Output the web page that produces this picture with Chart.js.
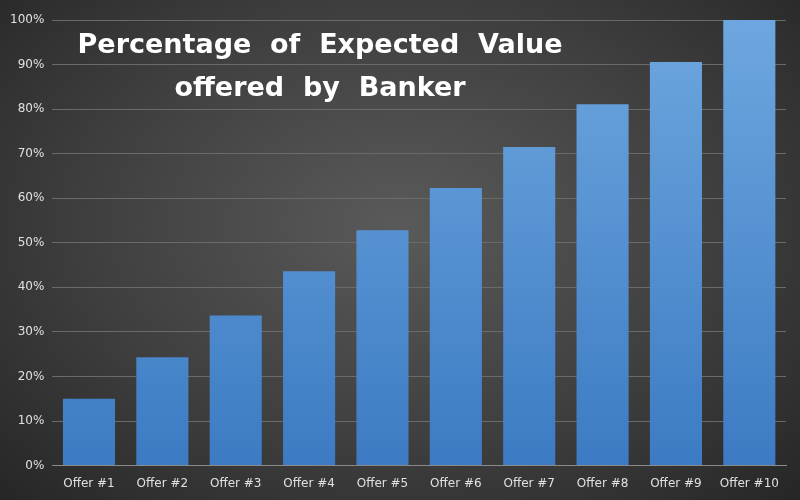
<!DOCTYPE html>
<html><head><meta charset="utf-8">
<script src="https://cdn.jsdelivr.net/npm/chart.js@4"></script>
<style>
html,body{margin:0;padding:0;}
body{width:800px;height:500px;background:radial-gradient(ellipse at 50% 45%, #5a5a5a 0%, #3f3f3f 55%, #262626 100%);}
#wrap{width:800px;height:500px;position:relative;}
</style></head><body>
<div id="wrap"><canvas id="c" width="800" height="500"></canvas></div>
<script>
const categories = ["Offer #1","Offer #2","Offer #3","Offer #4","Offer #5","Offer #6","Offer #7","Offer #8","Offer #9","Offer #10"];
const values = [15, 24.3, 33.7, 43.6, 52.8, 62.3, 71.5, 81.1, 90.6, 100];
const titleLines = ["Percentage  of  Expected  Value", "offered  by  Banker"];

const titlePlugin = {
  id:'tp',
  afterDraw(chart){
    const ctx = chart.ctx;
    ctx.save();
    ctx.fillStyle = '#ffffff';
    ctx.font = 'bold 27px "DejaVu Sans", Verdana, sans-serif';
    ctx.textAlign = 'center';
    ctx.textBaseline = 'middle';
    ctx.fillText(titleLines[0], 320, 46);
    ctx.fillText(titleLines[1], 320, 89);
    ctx.restore();
  }
};

new Chart(document.getElementById('c'), {
  type:'bar',
  data:{labels:categories, datasets:[{
    data:values,
    backgroundColor(ctx){
      const a = ctx.chart.chartArea;
      if(!a) return '#5b9bd5';
      const g = ctx.chart.ctx.createLinearGradient(0,a.top,0,a.bottom);
      g.addColorStop(0,'#6ea7df');
      g.addColorStop(1,'#3c7bc3');
      return g;
    },
    categoryPercentage:0.71, barPercentage:1.0
  }]},
  options:{
    responsive:false, animation:false,
    layout:{padding:{left:2,right:14,top:20,bottom:6}},
    plugins:{legend:{display:false},tooltip:{enabled:false},title:{display:false}},
    scales:{
      x:{grid:{display:false},border:{color:'#8a8a8a'},
         ticks:{color:'#e0e0e0',font:{family:'"DejaVu Sans", sans-serif',size:12},maxRotation:0,autoSkip:false}},
      y:{min:0,max:100,grid:{color:'#6a6a6a',drawTicks:false},border:{display:false},
         ticks:{stepSize:10,color:'#e0e0e0',padding:8,font:{family:'"DejaVu Sans", sans-serif',size:12},callback:v=>v+'%'}}
    }
  },
  plugins:[titlePlugin]
});
</script></body></html>
